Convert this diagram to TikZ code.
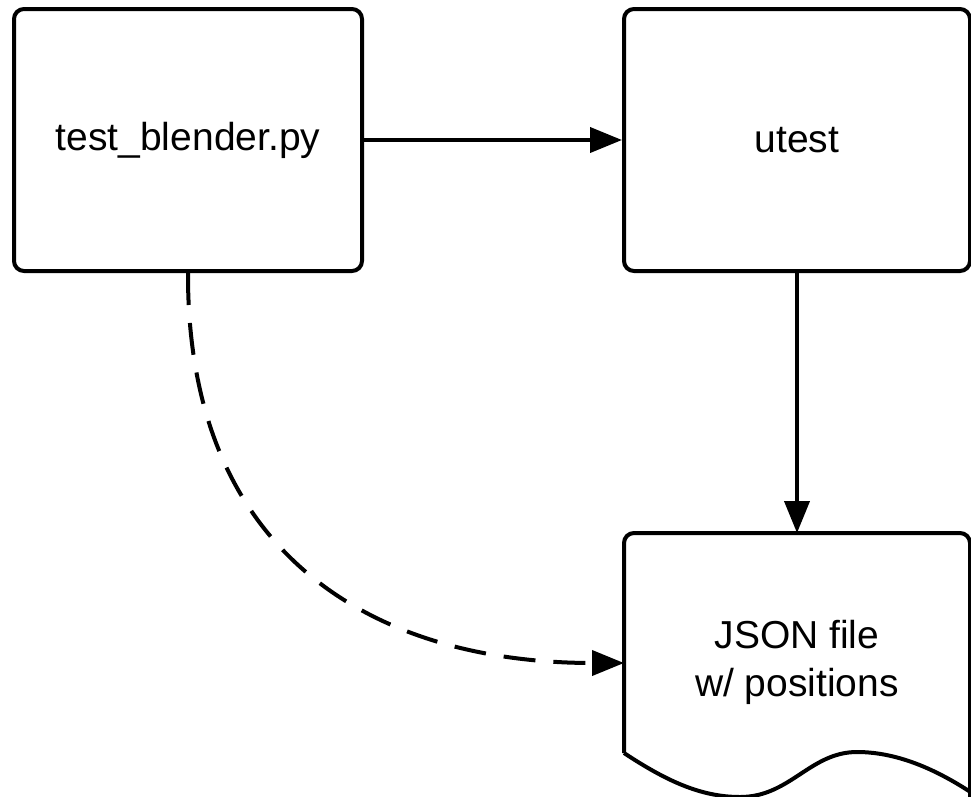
\documentclass[tikz,border=0pt]{standalone}
\usepackage{fontspec}
\setmainfont{Liberation Sans}
\usetikzlibrary{arrows.meta}
\begin{document}
\begin{tikzpicture}[x=1pt,y=-1pt,
  boxstyle/.style={draw=black,line width=4pt,rounded corners=10pt,fill=white,align=center,inner sep=0pt},
  txt/.style={font=\fontsize{39}{48}\selectfont},
  conn/.style={line width=4pt,-{Triangle[length=32pt,width=25pt]}}]
\useasboundingbox (0,0) rectangle (971,796);
\node[boxstyle,txt,minimum width=348pt,minimum height=262pt] (lb) at (188,140) {test\_blender.py};
\node[boxstyle,txt,minimum width=346pt,minimum height=262pt] (ut) at (797,140) {utest};
\node[txt,align=center,inner sep=0pt,minimum width=346pt,minimum height=258pt] (doc) at (797,662) {JSON file\\w/ positions};
\draw[line width=4pt,rounded corners=10pt] (624,753) -- (624,533) -- (970,533) -- (970,800);
\draw[line width=4pt] (624,753) .. controls (665,780) and (700,797) .. (740,797)
  .. controls (790,797) and (810,752) .. (857,752)
  .. controls (900,752) and (940,772) .. (972,793);
\draw[conn] (lb.east) -- (ut.west);
\draw[conn] (ut.south) -- (797,533);
\draw[conn,dash pattern=on 32pt off 18pt] (lb.south) .. controls (187,560) and (380,663) .. (624,663);
\end{tikzpicture}
\end{document}
